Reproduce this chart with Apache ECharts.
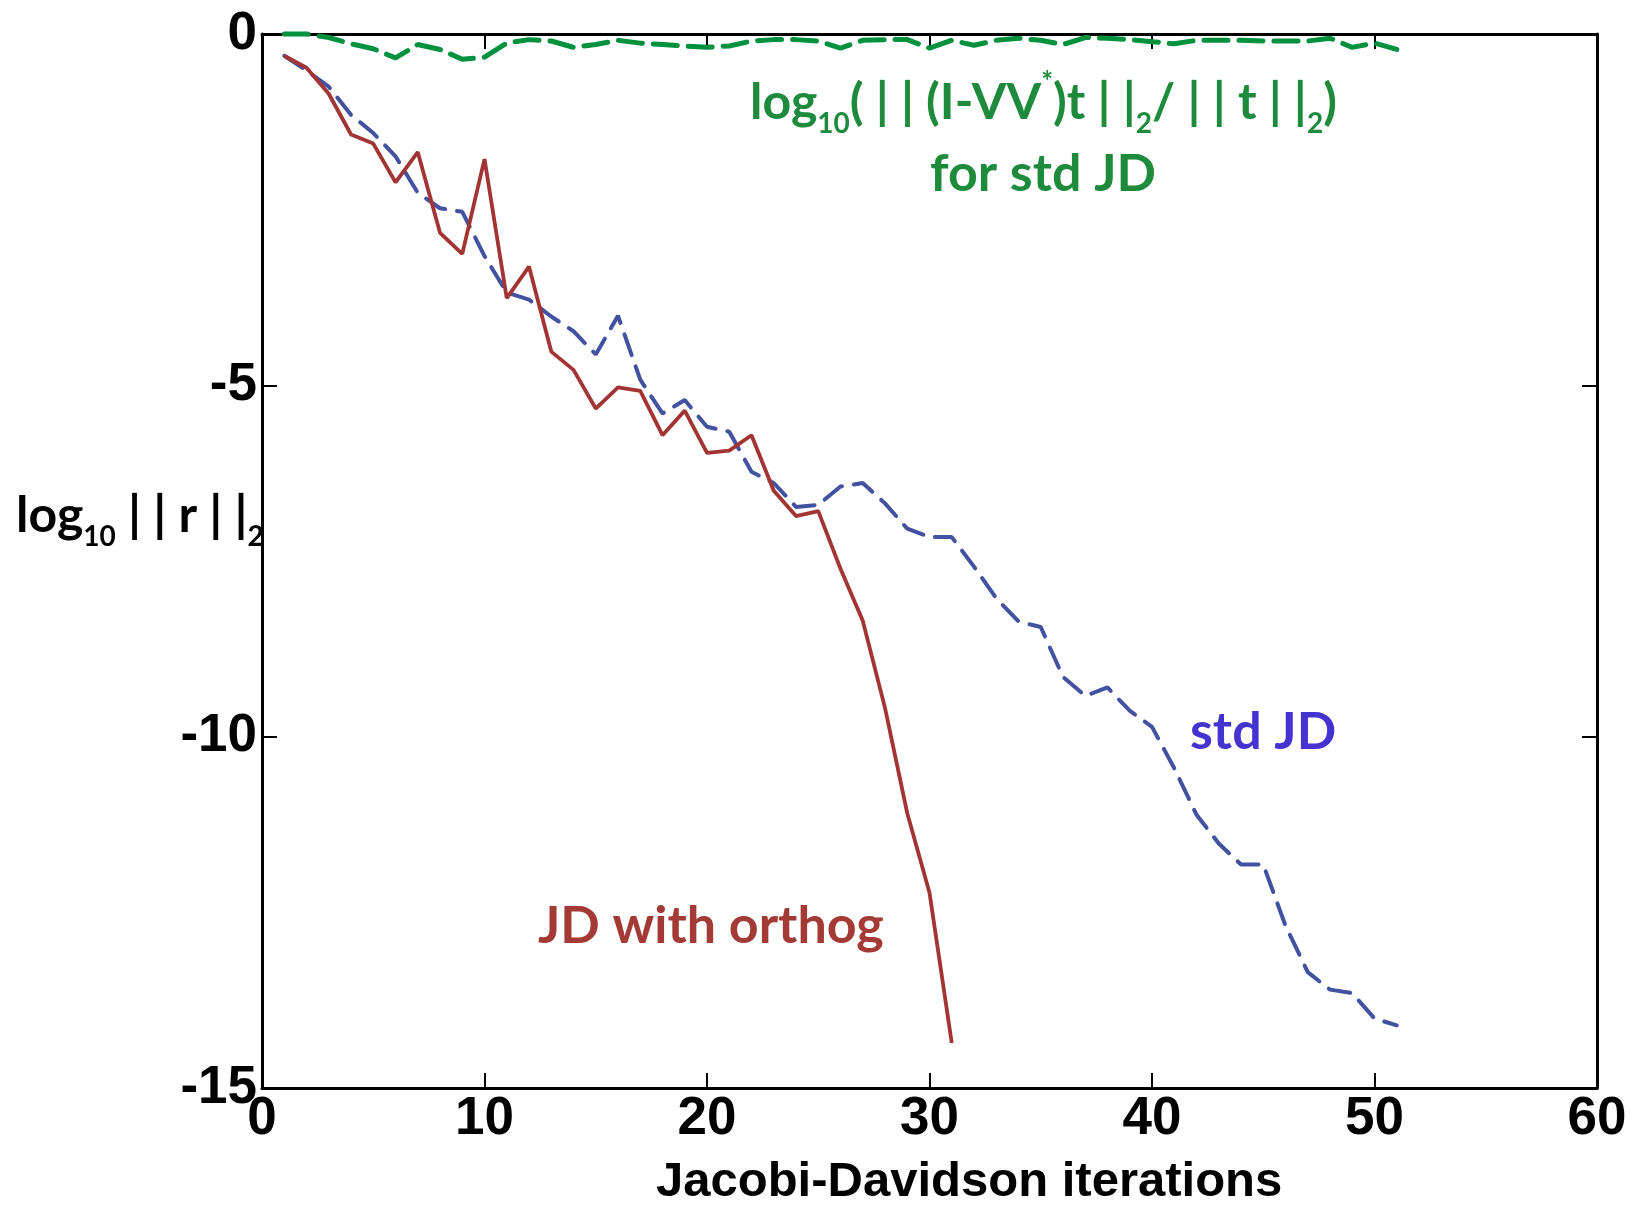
<!DOCTYPE html>
<html>
<head>
<meta charset="utf-8">
<title>Jacobi-Davidson convergence</title>
<script src="https://cdn.jsdelivr.net/npm/echarts@6/dist/echarts.min.js"></script>
<style>
html,body{margin:0;padding:0;background:#fff;}
#chart{width:1633px;height:1206px;}
</style>
</head>
<body>
<div id="chart"></div>
<script>
// iteration numbers on the x axis
var iterations = [1,2,3,4,5,6,7,8,9,10,11,12,13,14,15,16,17,18,19,20,
	21,22,23,24,25,26,27,28,29,30,31,32,33,34,35,36,37,38,39,40,
	41,42,43,44,45,46,47,48,49,50,51];
// log10 ||r||2, JD with orthog (red, solid)
var orthogJD = [-0.31,-0.48,-0.85,-1.43,-1.56,-2.11,-1.68,-2.83,-3.13,-1.78,
	-3.76,-3.31,-4.52,-4.78,-5.33,-5.03,-5.08,-5.71,-5.36,-5.96,
	-5.93,-5.71,-6.50,-6.86,-6.79,-7.61,-8.35,-9.59,-11.09,-12.22,-14.36];
// log10 ||r||2, std JD (blue, dashed)
var stdJD = [-0.31,-0.52,-0.75,-1.15,-1.41,-1.74,-2.26,-2.48,-2.53,-3.16,
	-3.68,-3.78,-4.02,-4.23,-4.56,-4.01,-4.92,-5.40,-5.21,-5.59,
	-5.66,-6.23,-6.39,-6.73,-6.70,-6.44,-6.39,-6.68,-7.04,-7.16,
	-7.16,-7.58,-8.03,-8.36,-8.44,-9.15,-9.42,-9.30,-9.63,-9.86,
	-10.45,-11.11,-11.52,-11.82,-11.82,-12.69,-13.35,-13.60,-13.65,-14.01,-14.11];
// log10(||(I-VV*)t||2/||t||2) for std JD (green, dashed)
var projRatio = [0,0,-0.05,-0.14,-0.21,-0.34,-0.15,-0.22,-0.36,-0.33,
	-0.13,-0.08,-0.10,-0.19,-0.15,-0.09,-0.13,-0.15,-0.17,-0.19,
	-0.17,-0.10,-0.08,-0.08,-0.10,-0.20,-0.09,-0.08,-0.08,-0.20,
	-0.09,-0.16,-0.09,-0.06,-0.09,-0.15,-0.05,-0.06,-0.08,-0.11,
	-0.14,-0.09,-0.09,-0.09,-0.10,-0.10,-0.10,-0.06,-0.19,-0.13,-0.22];
// axis ranges
var xRange = [0, 60], xStep = 10;
var yRange = [-15, 0], yStep = 5;

var tickFont = "'Liberation Sans',Arial,sans-serif";
var noteFont = "Lato,'Open Sans',sans-serif";
var green = '#1e8b3c';

function pairs(xs, ys) {
	var out = [];
	for (var i = 0; i < ys.length; i++) {
		out.push([xs[i], ys[i]]);
	}
	return out;
}

function axisStyle(pos, isX, showLabel) {
	var a = {
		type: 'value',
		position: pos,
		min: isX ? xRange[0] : yRange[0],
		max: isX ? xRange[1] : yRange[1],
		interval: isX ? xStep : yStep,
		axisLine: {show: true, onZero: false, lineStyle: {color: '#000', width: 3}},
		axisTick: {show: true, inside: true, length: 15, lineStyle: {color: '#000', width: 2}},
		axisLabel: {show: showLabel, color: '#000', fontFamily: tickFont, fontWeight: 'bold', fontSize: 53, margin: 5},
		splitLine: {show: false}
	};
	return a;
}

//下标/上标的富文本样式
function richSet(size, color) {
	return {
		n: {fontFamily: noteFont, fontWeight: 'bold', fontSize: size, lineHeight: 70, verticalAlign: 'middle', fill: color},
		s: {fontFamily: noteFont, fontWeight: 'bold', fontSize: Math.round(size * 0.55), lineHeight: 70, verticalAlign: 'bottom', fill: color},
		p: {fontFamily: noteFont, fontWeight: 'bold', fontSize: Math.round(size * 0.55), lineHeight: 70, verticalAlign: 'top', fill: color}
	};
}

var chart = echarts.init(document.getElementById('chart'));
chart.setOption({
	animation: false,
	backgroundColor: '#fff',
	grid: {left: 262, right: 36, top: 34, bottom: 118, containLabel: false},
	xAxis: [axisStyle('bottom', true, true), axisStyle('top', true, false)],
	yAxis: [axisStyle('left', false, true), axisStyle('right', false, false)],
	series: [
		{
			name: 'std JD', type: 'line', data: pairs(iterations, stdJD),
			symbol: 'none', clip: false, z: 3,
			lineStyle: {color: '#4352a0', width: 4, type: [22, 12], cap: 'round'}
		},
		{
			name: 'JD with orthog', type: 'line', data: pairs(iterations, orthogJD),
			symbol: 'none', clip: false, z: 4,
			lineStyle: {color: '#a33434', width: 3.8}
		},
		{
			name: 'proj', type: 'line', data: pairs(iterations, projRatio),
			symbol: 'none', clip: false, z: 5,
			lineStyle: {color: '#00913f', width: 5, type: [24, 11], cap: 'round'}
		}
	],
	graphic: [
		//y轴标题
		{
			type: 'text', left: 16, top: 491,
			style: {
				text: '{n|log}{s|10}{n| | | r | |}{s|2}',
				fill: '#000',
				rich: richSet(50, '#000')
			}
		},
		//x轴标题
		{
			type: 'text', left: 656, top: 1158,
			style: {text: 'Jacobi-Davidson iterations', fill: '#000', font: 'bold 49px ' + tickFont}
		},
		//绿色注释
		{
			type: 'text', left: 750, top: 68,
			style: {
				text: '{n|log}{s|10}{n|( | | (I-VV}{p|*}{n|)t | |}{s|2}{n|/ | | t | |}{s|2}{n|)}',
				fill: green,
				rich: richSet(50, green)
			}
		},
		{
			type: 'text', left: 930, top: 148,
			style: {text: 'for std JD', fill: green, font: 'bold 52px ' + noteFont}
		},
		//蓝色注释
		{
			type: 'text', left: 1190, top: 706,
			style: {text: 'std JD', fill: '#4533d1', font: 'bold 52px ' + noteFont}
		},
		//红色注释
		{
			type: 'text', left: 538, top: 900,
			style: {text: 'JD with orthog', fill: '#a33a35', font: 'bold 52px ' + noteFont}
		}
	]
});
</script>
</body>
</html>
